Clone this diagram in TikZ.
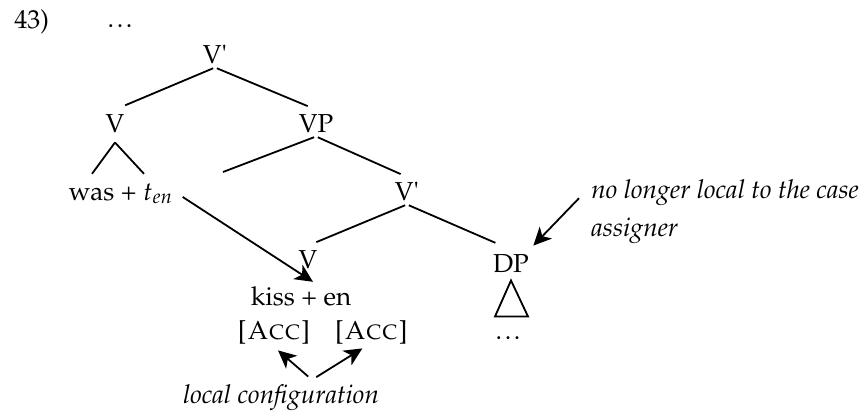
\documentclass[tikz,border=0pt]{standalone}
\usepackage[T1]{fontenc}
\usepackage{mathpazo}
\usetikzlibrary{positioning,calc,arrows.meta}

\newcommand{\tightdots}{.\kern1.3pt.\kern1.3pt.}

\tikzset{
  lbl/.style={inner sep=2pt, anchor=base},
  branch/.style={line width=0.9pt, shorten <=1pt, shorten >=4.5pt},
  roof/.style={line width=0.9pt},
  pointer/.style={line width=0.9pt, -{Stealth[length=9pt,width=8.5pt,inset=2.5pt]}}
}

\begin{document}
\begin{tikzpicture}[x=0.5pt,y=-0.5pt,font=\fontsize{13pt}{19pt}\selectfont]
  \useasboundingbox (0,0) rectangle (866,419);

  \node (exnum) [lbl, anchor=base west] at (10,28) {43)};
  \node (topdots) [lbl] at (120,27) {\tightdots};

  \node (vbar) [lbl] at (215,63) {V\textquotesingle};
  \node (v1) [lbl] at (115,132) {V};
  \node (vp) [lbl] at (316,132) {VP};
  \node (wasten) [lbl] at (121,200) {was + $t_{en}$};
  \node (vbar2) [lbl] at (407,200) {V\textquotesingle};
  \node (v2) [lbl] at (308,268) {V};
  \node (dp) [lbl] at (511,272) {DP};
  \node (kissen) [lbl] at (301,305) {kiss + en};
  \node (acc1) [lbl] at (274,339) {\textsc{[Acc]}};
  \node (acc2) [lbl, right=7.5pt of acc1.base east, anchor=base west] {\textsc{[Acc]}};
  \node (dpdots) [lbl] at (508,339) {\tightdots};
  \node (local) [lbl] at (281,403) {\textit{local configuration}};
  \node (note) [lbl, anchor=base west] at (587,198) {\textit{no longer local to the case}};
  \node (note2) [lbl, below=19pt of note.base west, anchor=base west] {\textit{assigner}};
  \coordinate (vpspec) at (223,172);

  \draw[branch, shorten >=5.5pt] (vbar.south) -- (v1.north);
  \draw[branch] (vbar.south) -- (vp.north);
  \draw[roof] ([yshift=-3pt]v1.south) -- ([xshift=-14.5pt,yshift=2.5pt]wasten.north);
  \draw[roof] ([yshift=-3pt]v1.south) -- ([xshift=11.5pt,yshift=2.5pt]wasten.north);
  \draw[branch, shorten >=0pt] (vp.south) -- (vpspec);
  \draw[branch, shorten >=3.5pt] (vp.south) -- (vbar2.north);
  \draw[branch] (vbar2.south) -- (v2.north);
  \draw[branch, shorten >=8.5pt] (vbar2.south) -- (dp.north);
  \draw[roof] ([yshift=-2pt]dp.south) -- ++(-16,36) -- ++(33,0) -- cycle;

  \draw[pointer, shorten <=3pt] (wasten.east) -- ([xshift=6pt]kissen.north);
  \draw[pointer, shorten <=2.5pt] ([xshift=15.5pt]local.north) -- ([xshift=2pt,yshift=-1pt]acc1.south);
  \draw[pointer, shorten <=2.5pt] ([xshift=15.5pt]local.north) -- ([xshift=-4.5pt,yshift=0pt]acc2.south);
  \draw[pointer] ([xshift=-4pt,yshift=-3pt]note.west) -- ([yshift=2pt]dp.north east);
\end{tikzpicture}
\end{document}
